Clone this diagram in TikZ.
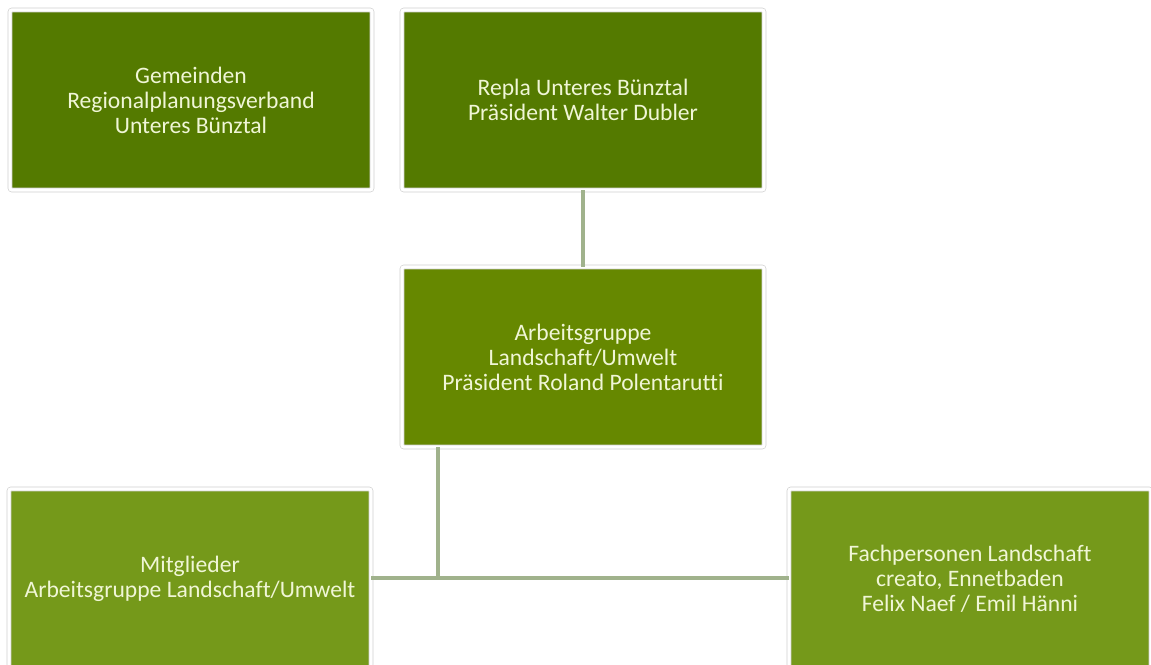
\documentclass[tikz,border=0pt]{standalone}
\usepackage{fontspec}
\setmainfont{Carlito}[Ligatures=NoCommon]
\usepackage{tikz}

\definecolor{olivedark}{RGB}{84,122,0}
\definecolor{olivemid}{RGB}{102,136,0}
\definecolor{olivelight}{RGB}{117,153,26}
\definecolor{boxtext}{RGB}{240,246,214}
\definecolor{linkgreen}{RGB}{160,178,140}

\begin{document}
\begin{tikzpicture}[x=0.5pt,y=-0.5pt,
  box/.style={draw=black!18,double=white,double distance=1.6pt,line width=0.35pt,
    rounded corners=1pt,minimum width=181pt,minimum height=90pt,inner sep=0pt,
    align=center,text=boxtext,font=\fontsize{11.8}{12.5}\selectfont},
  link/.style={draw=linkgreen,line width=2.4pt}]
  \clip (0,0) rectangle (1151,664);
  \fill[white] (0,0) rectangle (1151,664);

  \node[box,fill=olivedark] (gemeinden) at (191,100)
    {Gemeinden\\Regionalplanungsverband\\Unteres Bünztal};
  \node[box,fill=olivedark] (repla) at (583,100)
    {Repla Unteres Bünztal\\Präsident Walter Dubler};
  \node[box,fill=olivemid] (ag) at (583,357)
    {Arbeitsgruppe\\Landschaft/Umwelt\\Präsident Roland Polentarutti};
  \node[box,fill=olivelight] (mitglieder) at (190,579)
    {Mitglieder\\Arbeitsgruppe Landschaft/Umwelt};
  \node[box,fill=olivelight] (fach) at (970,579)
    {Fachpersonen Landschaft\\creato, Ennetbaden\\Felix Naef / Emil Hänni};

  \coordinate (split) at (438,578);

  \draw[link] (repla) -- (ag);
  \draw[link] (ag.south -| split) -- (split);
  \draw[link] (mitglieder.east |- split) -- (fach.west |- split);
\end{tikzpicture}
\end{document}
